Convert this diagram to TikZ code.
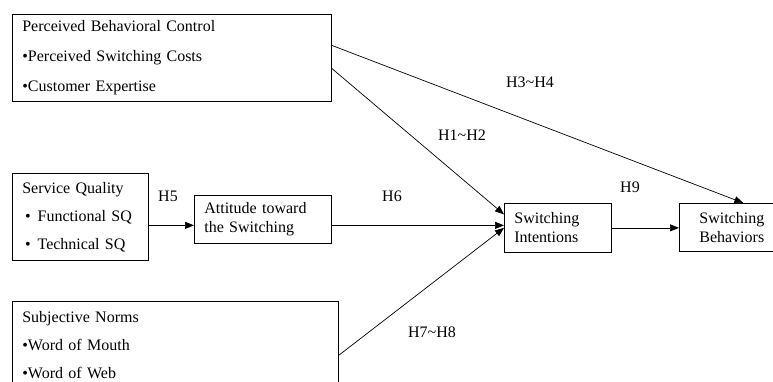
\documentclass[tikz,border=0pt]{standalone}
\usepackage{fontspec}
\setmainfont{Liberation Serif}
\usetikzlibrary{arrows.meta}

\tikzset{
    factor/.style={draw, line width=0.7pt, anchor=north west, inner xsep=10pt, inner ysep=0pt, align=left},
    hyp/.style={inner sep=0pt},
    link/.style={line width=0.7pt, -{Triangle[length=9pt,width=7pt]}}
}

\begin{document}
\begin{tikzpicture}[x=1pt,y=-1pt,font=\fontsize{16}{19}\selectfont]
        \useasboundingbox (0,0) rectangle (773,381);

        \node[factor, text width=299pt, minimum height=87pt] (pbc) at (12,14){Perceived Behavioral Control\\[11pt]\textbullet Perceived Switching Costs\\[11pt]\textbullet Customer Expertise};
        \node[factor, text width=116pt, minimum height=87pt] (sq) at (12,173){Service Quality\\[9pt]\,\textbullet\hspace{7pt}Functional SQ\\[9pt]\,\textbullet\hspace{7pt}Technical SQ};
        \node[factor, text width=117pt, minimum height=48pt] (att) at (194,195){Attitude toward\\the Switching};
        \node[factor, text width=87pt, minimum height=49pt] (si) at (504,203){Switching\\Intentions};
        \node[factor, inner xsep=20pt, text width=100pt, minimum height=48pt] (sb) at (679,203){Switching\\Behaviors};
        \node[factor, text width=306pt, minimum height=88pt] (sn) at (12,301){Subjective Norms\\[9pt]\textbullet Word of Mouth\\[9pt]\textbullet Word of Web};

        \node[hyp] (h5) at (168,196){H5};
        \node[hyp] (h6) at (392,196){H6};
        \node[hyp] (h12) at (462,135){H1\textasciitilde H2};
        \node[hyp] (h34) at (530,82){H3\textasciitilde H4};
        \node[hyp] (h78) at (432,332){H7\textasciitilde H8};
        \node[hyp] (h9) at (630,187){H9};

        \draw[link] ([yshift=12.5pt]pbc.east) -- ([xshift=-6pt]sb.north);
        \draw[link] ([yshift=-10.5pt]pbc.east) -- ([yshift=13.5pt]si.west);
        \draw[link] ([yshift=-8.5pt]sq.east) -- ([yshift=-6pt]att.west);
        \draw[link] ([yshift=-6pt]att.east) -- ([yshift=2.5pt]si.west);
        \draw[link] ([yshift=-10pt]sn.east) -- (si.west);
        \draw[link] (si.east) -- (si.east -| sb.west);
    \end{tikzpicture}
\end{document}
